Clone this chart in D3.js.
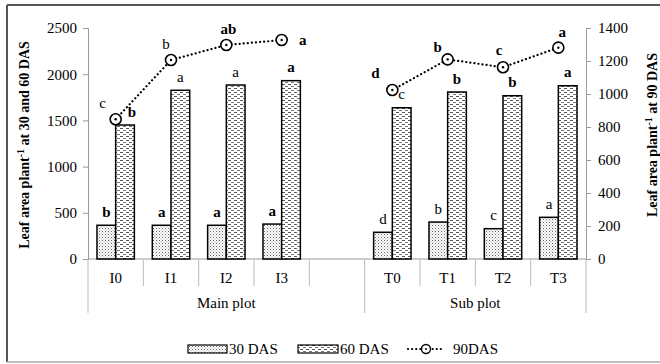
<!DOCTYPE html>
<html>
  <head>
    <meta charset="utf-8">
    <title>Leaf area plant</title>
    <style>
      body { margin: 0; background: #fff; }
      svg text { font-family: "Liberation Serif", "Times New Roman", serif; fill: #000; }
      .tick text { font-size: 15px; }
      .letter { font-size: 15px; text-anchor: middle; }
    </style>
  </head>
  <body>
    <script src="https://d3js.org/d3.v7.min.js"></script>
    <script>
      // chart data
      var categories = ["I0", "I1", "I2", "I3", "", "T0", "T1", "T2", "T3"];
      var groups = [
        {name: "Main plot", from: 0, to: 4},
        {name: "Sub plot", from: 5, to: 8}
      ];
      var das30 = [365, 365, 365, 378, null, 289, 400, 328, 451];
      var das60 = [1450, 1826, 1883, 1930, null, 1637, 1807, 1767, 1875];
      var das90 = [847, 1206, 1297, 1327, null, 1024, 1210, 1162, 1281];

      var letters30 = ["b", "a", "a", "a", "", "d", "b", "c", "a"];
      var letters60 = ["b", "a", "a", "a", "", "c", "b", "b", "a"];
      var letters90 = ["c", "b", "ab", "a", "", "d", "b", "c", "a"];

      var leftTicks = [0, 500, 1000, 1500, 2000, 2500];
      var rightTicks = [0, 200, 400, 600, 800, 1000, 1200, 1400];

      // label styling (which letters are bold, nudges for crowded ones)
      var bold30 = [1, 1, 1, 1, 0, 0, 0, 0, 0];
      var bold60 = [1, 0, 0, 1, 0, 0, 1, 1, 1];
      var bold90 = [0, 0, 1, 1, 0, 1, 1, 1, 1];
      var nudge60 = [7, 0, 0, 0, 0, 0, 0, 0, 0];
      var nudge90 = [[-13, -16], [-5, -16], [2, -15], [21, 0], [0, 0],
                     [-17, -17], [-10, -12], [-4, -17], [4, -15]];

      var W = 660, H = 364;
      var plot = {left: 88, right: 586, top: 28, bottom: 259};

      var svg = d3.select("body").append("svg")
          .attr("width", W)
          .attr("height", H);

      // patterns for the bars
      var defs = svg.append("defs");
      var dots = defs.append("pattern")
          .attr("id", "dots")
          .attr("patternUnits", "userSpaceOnUse")
          .attr("width", 3).attr("height", 3);
      dots.append("rect").attr("width", 3).attr("height", 3).attr("fill", "#fff");
      dots.append("rect").attr("x", 0).attr("y", 0).attr("width", 1).attr("height", 1).attr("fill", "#666");
      dots.append("rect").attr("x", 1.5).attr("y", 1.5).attr("width", 1).attr("height", 1).attr("fill", "#999");

      var dashes = defs.append("pattern")
          .attr("id", "dashes")
          .attr("patternUnits", "userSpaceOnUse")
          .attr("width", 6).attr("height", 4);
      dashes.append("rect").attr("width", 6).attr("height", 4).attr("fill", "#fff");
      dashes.append("rect").attr("x", 0).attr("y", 0).attr("width", 3).attr("height", 1).attr("fill", "#555");
      dashes.append("rect").attr("x", 3).attr("y", 2).attr("width", 3).attr("height", 1).attr("fill", "#777");

      // frame
      svg.append("line").attr("x1", 7).attr("x2", W).attr("y1", 5).attr("y2", 5)
          .attr("stroke", "#555").attr("stroke-width", 2);
      svg.append("line").attr("x1", 7).attr("x2", 7).attr("y1", 5).attr("y2", 362)
          .attr("stroke", "#555").attr("stroke-width", 2);
      svg.append("line").attr("x1", 7).attr("x2", W).attr("y1", 362).attr("y2", 362)
          .attr("stroke", "#aaa").attr("stroke-width", 1.5);

      // scales
      var x = d3.scaleBand()
          .domain(d3.range(categories.length))
          .range([plot.left, plot.right])
          .padding(0);
      var xs = d3.scaleBand()
          .domain(["30", "60"])
          .range([0, x.bandwidth()])
          .paddingInner(0)
          .paddingOuter(0.48);
      var y = d3.scaleLinear().domain([0, 2500]).range([plot.bottom, plot.top]);
      var y2 = d3.scaleLinear().domain([0, 1400]).range([plot.bottom, plot.top]);

      // axes
      var leftAxis = svg.append("g")
          .attr("transform", "translate(" + plot.left + ",0)")
          .call(d3.axisLeft(y).tickValues(leftTicks).tickFormat(d3.format("d")).tickSize(5).tickPadding(6));
      var rightAxis = svg.append("g")
          .attr("transform", "translate(" + plot.right + ",0)")
          .call(d3.axisRight(y2).tickValues(rightTicks).tickFormat(d3.format("d")).tickSize(5).tickPadding(7));
      [leftAxis, rightAxis].forEach(function(a) {
        a.select(".domain").attr("stroke", "#999");
        a.selectAll(".tick line").attr("stroke", "#999");
        a.attr("font-family", null).attr("font-size", null);
      });

      // bottom category axis with group brackets
      var cat = svg.append("g");
      cat.append("line")
          .attr("x1", plot.left).attr("x2", plot.right)
          .attr("y1", plot.bottom).attr("y2", plot.bottom)
          .attr("stroke", "#999");
      d3.range(categories.length + 1).forEach(function(i) {
        var xx = i < categories.length ? x(i) : plot.right;
        var isEdge = groups.some(function(g) { return i === g.from || i === g.to + 1; });
        cat.append("line")
            .attr("x1", xx).attr("x2", xx)
            .attr("y1", plot.bottom).attr("y2", isEdge ? 313 : 286)
            .attr("stroke", "#bbb");
      });
      cat.selectAll(".cat-label")
          .data(categories)
          .enter().append("text")
          .attr("x", function(d, i) { return x(i) + x.bandwidth() / 2; })
          .attr("y", 283)
          .attr("text-anchor", "middle")
          .attr("font-size", 15)
          .text(function(d) { return d; });
      cat.selectAll(".grp-label")
          .data(groups)
          .enter().append("text")
          .attr("x", function(g) { return (x(g.from) + x(g.to) + x.bandwidth()) / 2; })
          .attr("y", 308)
          .attr("text-anchor", "middle")
          .attr("font-size", 15)
          .text(function(g) { return g.name; });

      // bars
      function drawBars(values, key, fillId, letters, bolds, nudge) {
        var rows = values.map(function(v, i) { return {i: i, v: v}; })
            .filter(function(d) { return d.v !== null; });
        svg.append("g").selectAll("rect")
            .data(rows)
            .enter().append("rect")
            .attr("x", function(d) { return x(d.i) + xs(key); })
            .attr("width", xs.bandwidth())
            .attr("y", function(d) { return y(d.v); })
            .attr("height", function(d) { return y(0) - y(d.v); })
            .attr("fill", "url(#" + fillId + ")")
            .attr("stroke", "#000")
            .attr("stroke-width", 1.5);
        svg.append("g").selectAll("text")
            .data(rows)
            .enter().append("text")
            .attr("class", "letter")
            .attr("x", function(d) { return x(d.i) + xs(key) + xs.bandwidth() / 2 + (nudge ? nudge[d.i] : 0); })
            .attr("y", function(d) { return y(d.v) - 13; })
            .attr("dy", "0.3em")
            .attr("font-weight", function(d) { return bolds[d.i] ? "bold" : "normal"; })
            .text(function(d) { return letters[d.i]; });
      }
      drawBars(das30, "30", "dots", letters30, bold30, null);
      drawBars(das60, "60", "dashes", letters60, bold60, nudge60);

      // 90 DAS line
      var pts = das90.map(function(v, i) { return {i: i, v: v}; });
      var line = d3.line()
          .defined(function(d) { return d.v !== null; })
          .x(function(d) { return x(d.i) + x.bandwidth() / 2; })
          .y(function(d) { return y2(d.v); });
      svg.append("path")
          .datum(pts)
          .attr("d", line)
          .attr("fill", "none")
          .attr("stroke", "#000")
          .attr("stroke-width", 2.2)
          .attr("stroke-linecap", "round")
          .attr("stroke-dasharray", "0.1,4");
      var pv = pts.filter(function(d) { return d.v !== null; });
      var mk = svg.append("g").selectAll("g")
          .data(pv)
          .enter().append("g")
          .attr("transform", function(d) {
            return "translate(" + (x(d.i) + x.bandwidth() / 2) + "," + y2(d.v) + ")";
          });
      mk.append("circle").attr("r", 5.5).attr("fill", "#fff").attr("stroke", "#000").attr("stroke-width", 1.6);
      mk.append("circle").attr("r", 1.2).attr("fill", "#000");
      svg.append("g").selectAll("text")
          .data(pv)
          .enter().append("text")
          .attr("class", "letter")
          .attr("x", function(d) { return x(d.i) + x.bandwidth() / 2 + nudge90[d.i][0]; })
          .attr("y", function(d) { return y2(d.v) + nudge90[d.i][1]; })
          .attr("dy", "0.3em")
          .attr("font-weight", function(d) { return bold90[d.i] ? "bold" : "normal"; })
          .text(function(d) { return letters90[d.i]; });

      // axis titles
      var lt = svg.append("text")
          .attr("transform", "translate(29,145) rotate(-90)")
          .attr("text-anchor", "middle")
          .attr("font-size", 14)
          .attr("font-weight", "bold");
      lt.append("tspan").text("Leaf area plant");
      lt.append("tspan").attr("font-size", 10).attr("dy", -5).text("-1");
      lt.append("tspan").attr("dy", 5).text(" at 30 and 60 DAS");

      var rt = svg.append("text")
          .attr("transform", "translate(657,135) rotate(-90)")
          .attr("text-anchor", "middle")
          .attr("font-size", 14)
          .attr("font-weight", "bold");
      rt.append("tspan").text("Leaf area plant");
      rt.append("tspan").attr("font-size", 10).attr("dy", -5).text("-1");
      rt.append("tspan").attr("dy", 5).text(" at 90 DAS");

      // legend
      var lg = svg.append("g").attr("transform", "translate(0,349)");
      lg.append("rect").attr("x", 188).attr("y", -4).attr("width", 39).attr("height", 8)
          .attr("fill", "url(#dots)").attr("stroke", "#000").attr("stroke-width", 1.2);
      lg.append("text").attr("x", 229).attr("dy", "0.35em").attr("font-size", 15).text("30 DAS");
      lg.append("rect").attr("x", 298).attr("y", -4).attr("width", 40).attr("height", 8)
          .attr("fill", "url(#dashes)").attr("stroke", "#000").attr("stroke-width", 1.2);
      lg.append("text").attr("x", 340).attr("dy", "0.35em").attr("font-size", 15).text("60 DAS");
      lg.append("line").attr("x1", 408).attr("x2", 444).attr("y1", 0).attr("y2", 0)
          .attr("stroke", "#000").attr("stroke-width", 2.2)
          .attr("stroke-linecap", "round").attr("stroke-dasharray", "0.1,4");
      lg.append("circle").attr("cx", 426).attr("r", 4.5).attr("fill", "#fff").attr("stroke", "#000").attr("stroke-width", 1.4);
      lg.append("circle").attr("cx", 426).attr("r", 1).attr("fill", "#000");
      lg.append("text").attr("x", 453).attr("dy", "0.35em").attr("font-size", 15).text("90DAS");
    </script>
  </body>
</html>
